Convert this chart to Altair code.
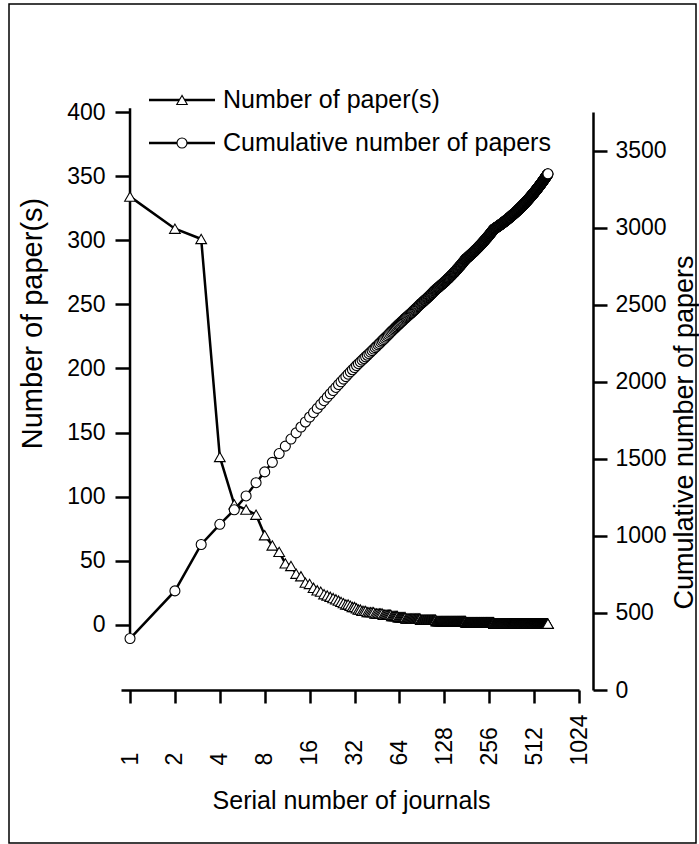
import altair as alt
import numpy as np
import pandas as pd

# ---- data ----
# papers per journal for the 32 most productive journals (rank order)
top_counts = [334, 309, 301, 131, 94, 90, 86, 70, 62, 57, 48, 46, 40, 38, 33,
              32, 29, 27, 26, 24, 23, 22, 21, 20, 19, 18, 17, 16, 16, 15, 14, 14]
# remaining journals as a frequency table: papers per journal -> number of journals
tail_values = [13, 12, 11, 10, 9, 8, 7, 6, 5, 4, 3, 2, 1]
tail_journals = [1, 2, 3, 5, 6, 7, 6, 8, 18, 24, 66, 97, 359]

x_ticks = [1, 2, 4, 8, 16, 32, 64, 128, 256, 512, 1024]
left_ticks = [0, 50, 100, 150, 200, 250, 300, 350, 400]
right_ticks = [0, 500, 1000, 1500, 2000, 2500, 3000, 3500]
legend_labels = ["Number of paper(s)", "Cumulative number of papers"]
legend_shapes = ["triangle-up", "circle"]

counts = top_counts + [int(v) for v in np.repeat(tail_values, tail_journals)]
df = pd.DataFrame({
    "rank": np.arange(1, len(counts) + 1),
    "papers": counts,
})
df["cumulative"] = df["papers"].cumsum()

FONT = "Liberation Sans"

x_enc = alt.X(
    "rank:Q",
    scale=alt.Scale(type="log", base=2, domain=[0.87, 1024], nice=False),
    axis=alt.Axis(
        values=x_ticks, format="d", title="Serial number of journals",
        labelAngle=270, labelAlign="left", labelBaseline="middle",
        labelPadding=62, tickSize=13, tickWidth=2.5, domainWidth=2.5,
        domainColor="black", tickColor="black", labelColor="black",
        labelFontSize=23, labelFont=FONT, labelOverlap=False, labelFlush=False,
        labelBound=False,
        titleFont=FONT, titleFontSize=25, titleFontWeight="normal",
        titleColor="black", titleX=230, titleY=118, titleAlign="center",
        titleBaseline="alphabetic",
    ),
)

left_scale = alt.Scale(domain=[-50.7, 400], nice=False, zero=False)
left_axis = alt.Axis(
    values=left_ticks, format="d", orient="left", offset=-9, domain=False,
    tickSize=15, tickWidth=2.5, tickColor="black", labelPadding=10,
    labelFontSize=23, labelFont=FONT, labelColor="black", labelOverlap=False,
    labelFlush=False, labelBound=False,
    title="Number of paper(s)", titleFont=FONT, titleFontSize=29,
    titleFontWeight="normal", titleColor="black", titleAngle=270,
    titleX=-89, titleY=211, titleAlign="center", titleBaseline="alphabetic",
)
y_left = alt.Y("papers:Q", scale=left_scale, axis=left_axis)

right_scale = alt.Scale(domain=[0, 3750], nice=False)
right_axis = alt.Axis(
    values=right_ticks, format="d", orient="right", offset=14,
    tickSize=14, tickWidth=2.5, tickColor="black", domainWidth=2.5,
    domainColor="black", labelPadding=8, labelFontSize=23, labelFont=FONT,
    labelColor="black", labelOverlap=False, labelFlush=False, labelBound=False,
    title="Cumulative number of papers", titleFont=FONT, titleFontSize=27,
    titleFontWeight="normal", titleColor="black", titleAngle=270,
    titleX=99, titleY=320, titleAlign="center", titleBaseline="alphabetic",
)
y_right = alt.Y("cumulative:Q", scale=right_scale, axis=right_axis)

base = alt.Chart(df)

left_line = base.mark_line(color="black", strokeWidth=2.5).encode(x=x_enc, y=y_left)
left_pts = base.mark_point(shape="triangle-up", size=115, filled=True, fill="white",
                           stroke="black", strokeWidth=1.1, opacity=1).encode(x=x_enc, y=y_left)
left_rule = base.mark_rule(color="black", strokeWidth=2.5).encode(
    x=alt.datum(1), y=alt.datum(-6.2), y2=alt.datum(403)
).transform_filter("datum.rank == 1")
left_group = alt.layer(left_rule, left_line, left_pts)

right_line = base.mark_line(color="black", strokeWidth=2.5).encode(x=x_enc, y=y_right)
right_pts = base.mark_point(shape="circle", size=100, filled=True, fill="white",
                            stroke="black", strokeWidth=1.1, opacity=1).encode(x=x_enc, y=y_right)
right_group = alt.layer(right_line, right_pts)

# manual legend (top left, inside frame)
one = pd.DataFrame({"k": [0]})
legend_layers = []
for i, (lab, shp) in enumerate(zip(legend_labels, legend_shapes)):
    yy = -12 + i * 43
    legend_layers.append(alt.Chart(one).mark_rule(color="black", strokeWidth=2.5).encode(
        x=alt.value(28), x2=alt.value(94), y=alt.value(yy)))
    legend_layers.append(alt.Chart(one).mark_point(shape=shp, size=110 if i == 0 else 100,
                                                    filled=True, fill="white", stroke="black",
                                                    strokeWidth=1.1, opacity=1).encode(
        x=alt.value(61), y=alt.value(yy)))
    legend_layers.append(alt.Chart(one).mark_text(text=lab, align="left", baseline="middle",
                                                   font=FONT, fontSize=25, color="black").encode(
        x=alt.value(102), y=alt.value(yy)))

frame = alt.Chart(one).mark_rect(fill="transparent", stroke="black", strokeWidth=1.5).encode(
    x=alt.value(-112), x2=alt.value(575), y=alt.value(-108), y2=alt.value(731))

chart = alt.layer(left_group, right_group, *legend_layers, frame).resolve_scale(
    y="independent"
).properties(
    width=458, height=578,
    padding={"left": 121, "top": 112, "right": 120, "bottom": 154},
    autosize=alt.AutoSizeParams(type="none"),
    background="white",
).configure_view(stroke=None).configure_axis(grid=False)

chart.save("out.html", embed_options={"renderer": "svg", "actions": False})
